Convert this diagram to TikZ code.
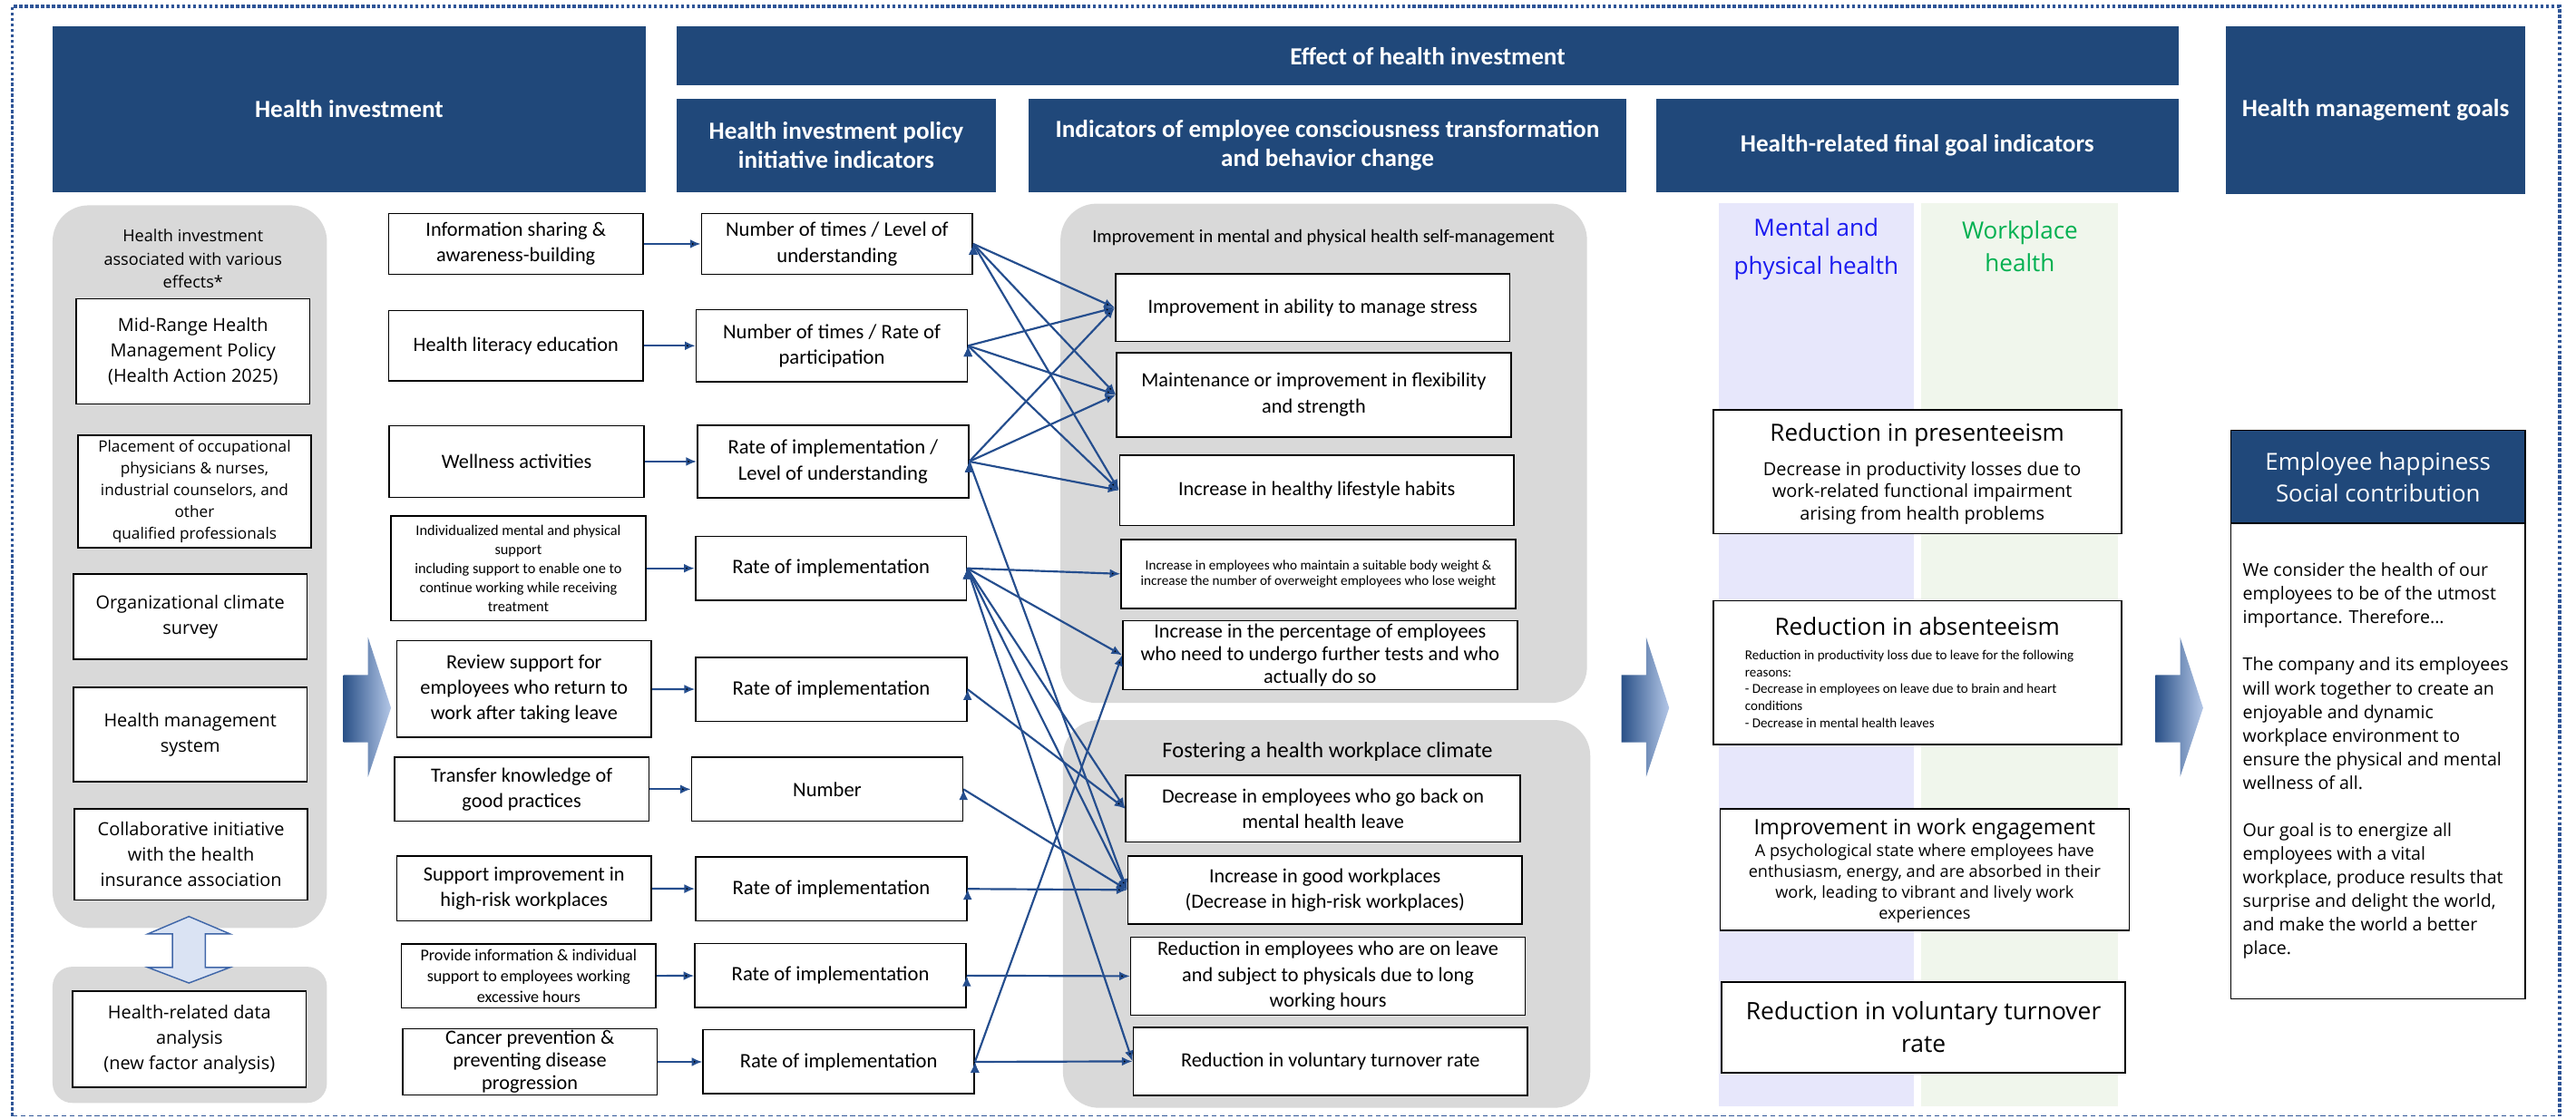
\documentclass[tikz,border=0pt]{standalone}
\usepackage{fontspec}
\setmainfont{Carlito}
\newfontfamily\widefont{Open Sans}
\usetikzlibrary{arrows.meta}

\definecolor{headblue}{HTML}{20487A}
\definecolor{linkblue}{HTML}{254E8E}
\definecolor{panelgray}{HTML}{D9D9D9}
\definecolor{lavcol}{HTML}{E7E7FB}
\definecolor{mintcol}{HTML}{F0F6EC}
\definecolor{titleblue}{HTML}{1A1AF0}
\definecolor{titlegreen}{HTML}{00B050}
\definecolor{arrowdark}{HTML}{2A5188}
\definecolor{arrowlight}{HTML}{B4C7E7}
\definecolor{dblfill}{HTML}{DAE3F3}
\definecolor{dbldraw}{HTML}{3F66A8}
\definecolor{bordercol}{HTML}{2F5597}

\newcommand\fs[2]{\fontsize{#1}{#2}\selectfont}

\begin{document}
\begin{tikzpicture}[x=1pt, y=-1pt, >={Latex[length=6.5pt,width=5.5pt]}]
    \tikzstyle{head}=[fill=headblue, text=white, font=\bfseries\fs{15}{17.5}, align=center, inner sep=0pt]
    \tikzstyle{panel}=[fill=panelgray, rounded corners=22pt]
    \tikzstyle{box}=[draw=black, fill=white, line width=0.9pt, align=center, inner sep=1pt]
    \tikzstyle{lbox}=[box, font=\widefont\fs{11}{15.6}, minimum width=142pt]
    \tikzstyle{init}=[box, font=\fs{12.3}{15.6}, minimum width=155pt]
    \tikzstyle{kpi}=[box, font=\fs{12.5}{15.6}, minimum width=165pt]
    \tikzstyle{behav}=[box, font=\fs{12.3}{15.6}, minimum width=240pt]
    \tikzstyle{final}=[box, minimum width=248.5pt]
    \tikzstyle{txt}=[inner sep=0pt, align=center]
    \tikzstyle{link}=[->, draw=linkblue, line width=1.2pt]

    \useasboundingbox (0,0) rectangle (1568,681);

    % Dotted frame round the whole chart
    \draw[bordercol, line width=2pt, dash pattern=on 2pt off 1.3pt] (7.5,679.5) -- (7.5,4) -- (1558,4) -- (1558,679.5);
    \draw[bordercol, line width=0.8pt, dash pattern=on 3pt off 2pt] (7.5,679.5) -- (1558,679.5);

    % Column headers
    \node[head, minimum width=361pt, minimum height=101pt] (h-inv) at (212.5,66.5) {Health investment};
    \node[head, minimum width=914pt, minimum height=36pt] (h-eff) at (869,34) {Effect of health investment};
    \node[head, minimum width=194pt, minimum height=57pt] (h-pol) at (509,88.5) {Health investment policy\\initiative indicators};
    \node[head, minimum width=364pt, minimum height=57pt] (h-ind) at (808,88.5) {Indicators of employee consciousness transformation\\and behavior change};
    \node[head, minimum width=318pt, minimum height=57pt] (h-fin) at (1167,88.5) {Health-related final goal indicators};
    \node[head, minimum width=182pt, minimum height=102pt] (h-goal) at (1446,67) {Health management goals};

    % Health investment column
    \fill[panel] (32,125) rectangle (199,565);
    \fill[panel, rounded corners=12pt] (32,588.6) rectangle (199,671.5);
    \node[txt, font=\widefont\fs{10}{14.1}] (inv-note) at (117.5,157.7) {Health investment\\associated with various\\effects*};
    \node[lbox, minimum height=64pt] (L-1) at (117.5,214) {Mid-Range Health\\Management Policy\\(Health Action 2025)};
    \node[lbox, font=\widefont\fs{9.5}{13.25}, minimum height=68.5pt] (L-2) at (118.4,299.3) {Placement of occupational\\physicians \& nurses,\\industrial counselors, and\\other\\qualified professionals};
    \node[lbox, minimum height=52pt] (L-3) at (115.8,375.5) {Organizational climate\\survey};
    \node[lbox, minimum height=57.5pt] (L-4) at (115.8,447.2) {Health management\\system};
    \node[lbox, font=\widefont\fs{11}{15.3}, minimum height=55.5pt] (L-5) at (116.3,520.2) {Collaborative initiative\\with the health\\insurance association};
    \node[lbox, minimum height=58.6pt] (L-6) at (115.3,632.8) {Health-related data\\analysis\\(new factor analysis)};
    \filldraw[fill=dblfill, draw=dbldraw, line width=0.8pt] (115,558) -- (140,568.6) -- (125,568.6) -- (125,589) -- (140,589)
        -- (115,598.5) -- (90,589) -- (105,589) -- (105,568.6) -- (90,568.6) -- cycle;

    % Big shaded arrows between the blocks
    \foreach \x in {209,987,1312}
        \shade[left color=arrowdark, right color=arrowlight] (\x,411) -- (\x+15,411) -- (\x+15,388) -- (\x+29,431)
            -- (\x+15,473) -- (\x+15,452) -- (\x,452) -- cycle;

    % Initiatives
    \node[init, minimum height=37pt] (I-1) at (314,148.5) {Information sharing \&\\awareness-building};
    \node[init, minimum height=43pt] (I-2) at (314,210.5) {Health literacy education};
    \node[init, minimum height=43.5pt] (I-3) at (314.5,281) {Wellness activities};
    \node[init, font=\fs{9}{11.6}, minimum height=64pt] (I-4) at (315.5,346) {Individualized mental and physical\\support\\including support to enable one to\\continue working while receiving\\treatment};
    \node[init, minimum height=59pt] (I-5) at (319,419.5) {Review support for\\employees who return to\\work after taking leave};
    \node[init, minimum height=39pt] (I-6) at (317.5,480.5) {Transfer knowledge of\\good practices};
    \node[init, minimum height=39.5pt] (I-7) at (319,541) {Support improvement in\\high-risk workplaces};
    \node[init, font=\fs{10}{12.9}, minimum height=39pt] (I-8) at (321.8,594.2) {Provide information \& individual\\support to employees working\\excessive hours};
    \node[init, font=\fs{12.3}{13.8}, minimum height=39pt] (I-9) at (322.5,646.5) {Cancer prevention \&\\preventing disease\\progression};

    % Policy initiative indicators
    \node[kpi, minimum height=37pt] (K-1) at (509.5,148.5) {Number of times / Level of\\understanding};
    \node[kpi, minimum height=44pt] (K-2) at (506.3,210.5) {Number of times / Rate of\\participation};
    \node[kpi, minimum height=44pt] (K-3) at (507,281) {Rate of implementation /\\Level of understanding};
    \node[kpi, minimum height=39pt] (K-6) at (503.5,480.5) {Number};
    \foreach \n/\x/\y in {4/505.8/346, 5/506/419.7, 7/506/541.2, 8/505.5/594, 9/510.5/646.5}
        \node[kpi, minimum height=39pt] (K-\n) at (\x,\y) {Rate of implementation};

    % Consciousness and behaviour change
    \fill[panel] (645.5,124) rectangle (966,428);
    \fill[panel] (647,438.4) rectangle (968,674.5);
    \node[txt, font=\fs{11.3}{14}] (self-note) at (805.6,144.5) {Improvement in mental and physical health self-management};
    \node[txt, font=\fs{13.5}{16}] (climate-note) at (808,458) {Fostering a health workplace climate};
    \node[behav, minimum height=41.3pt] (B-1) at (799,187.3) {Improvement in ability to manage stress};
    \node[behav, minimum height=51.4pt] (B-2) at (799.7,240.3) {Maintenance or improvement in flexibility\\and strength};
    \node[behav, minimum height=43pt] (B-3) at (801.5,298.5) {Increase in healthy lifestyle habits};
    \node[behav, font=\fs{8.4}{9.75}, minimum height=42pt] (B-4) at (802.5,349.4) {Increase in employees who maintain a suitable body weight \&\\increase the number of overweight employees who lose weight};
    \node[behav, font=\fs{12.3}{14}, minimum height=42pt] (B-5) at (803.5,398.9) {Increase in the percentage of employees\\who need to undergo further tests and who\\actually do so};
    \node[behav, minimum height=40.5pt] (B-6) at (805.3,492.3) {Decrease in employees who go back on\\mental health leave};
    \node[behav, minimum height=41.5pt] (B-7) at (806.5,541.8) {Increase in good workplaces\\(Decrease in high-risk workplaces)};
    \node[behav, minimum height=47.5pt] (B-8) at (808.3,594.3) {Reduction in employees who are on leave\\and subject to physicals due to long\\working hours};
    \node[behav, minimum height=41.6pt] (B-9) at (809.8,646.2) {Reduction in voluntary turnover rate};

    % Final goal indicators
    \fill[lavcol] (1046,123.6) rectangle (1165,673.6);
    \fill[mintcol] (1169.5,123.6) rectangle (1289,673.6);
    \node[txt, font=\widefont\fs{14.4}{23}, text=titleblue] (mp-note) at (1105.5,151.5) {Mental and\\physical health};
    \node[txt, font=\widefont\fs{14.4}{20}, text=titlegreen] (wp-note) at (1229.5,150) {Workplace\\health};
    \node[final, minimum height=75.4pt] (F-1) at (1167.2,287.3) {};
    \node[txt, font=\widefont\fs{14.4}{17}] (F-1-t) at (1167,265) {Reduction in presenteeism};
    \node[txt, font=\widefont\fs{11}{13.6}] (F-1-s) at (1170,300.2) {Decrease in productivity losses due to\\work-related functional impairment\\arising from health problems};
    \node[final, minimum height=87.5pt] (F-2) at (1167.2,409.5) {};
    \node[txt, font=\widefont\fs{14.4}{17}] (F-2-t) at (1167,381.5) {Reduction in absenteeism};
    \node[txt, font=\fs{8.3}{10.3}, align=left, anchor=west] (F-2-s) at (1062,419.4) {Reduction in productivity loss due to leave for the following\\reasons:\\- Decrease in employees on leave due to brain and heart\\conditions\\- Decrease in mental health leaves};
    \node[final, minimum width=249pt, minimum height=74.2pt] (F-3) at (1171.5,529.4) {};
    \node[txt, font=\widefont\fs{12.9}{15}] (F-3-t) at (1171.5,505) {Improvement in work engagement};
    \node[txt, font=\widefont\fs{10}{12.6}] (F-3-s) at (1171.5,537.9) {A psychological state where employees have\\enthusiasm, energy, and are absorbed in their\\work, leading to vibrant and lively work\\experiences};
    \node[final, font=\widefont\fs{14.6}{20.2}, minimum width=245.5pt, minimum height=55.2pt] (F-4) at (1170.8,625.4) {Reduction in voluntary turnover\\rate};

    % Health management goals
    \node[box, fill=headblue, text=white, font=\widefont\fs{14.3}{19.3}, minimum width=179pt, minimum height=56.5pt] (G-1) at (1447.5,290.3) {Employee happiness\\Social contribution};
    \node[box, minimum width=179pt, minimum height=289.5pt] (G-2) at (1447.5,463.3) {};
    \node[txt, font=\widefont\fs{10.8}{14.4}, align=left, anchor=west] (G-3) at (1365,463.3) {We consider the health of our\\employees to be of the utmost\\importance. Therefore...\\[14.4pt]The company and its employees\\will work together to create an\\enjoyable and dynamic\\workplace environment to\\ensure the physical and mental\\wellness of all.\\[14.4pt]Our goal is to energize all\\employees with a vital\\workplace, produce results that\\surprise and delight the world,\\and make the world a better\\place.};

    % Connect initiatives to their indicators
    \foreach \n in {1,...,9}
        \path[link] (I-\n) edge (K-\n);

    % Connect indicators to the behaviour changes
    \foreach \a/\b in {1/1,1/2,1/3,2/1,2/2,2/3,3/1,3/2,3/3,3/7,4/4,4/5,4/6,4/7,4/9,5/6,6/7,7/7,8/8,9/9,9/5}
        \path[link] (K-\a.east) edge (B-\b.west);
\end{tikzpicture}
\end{document}
